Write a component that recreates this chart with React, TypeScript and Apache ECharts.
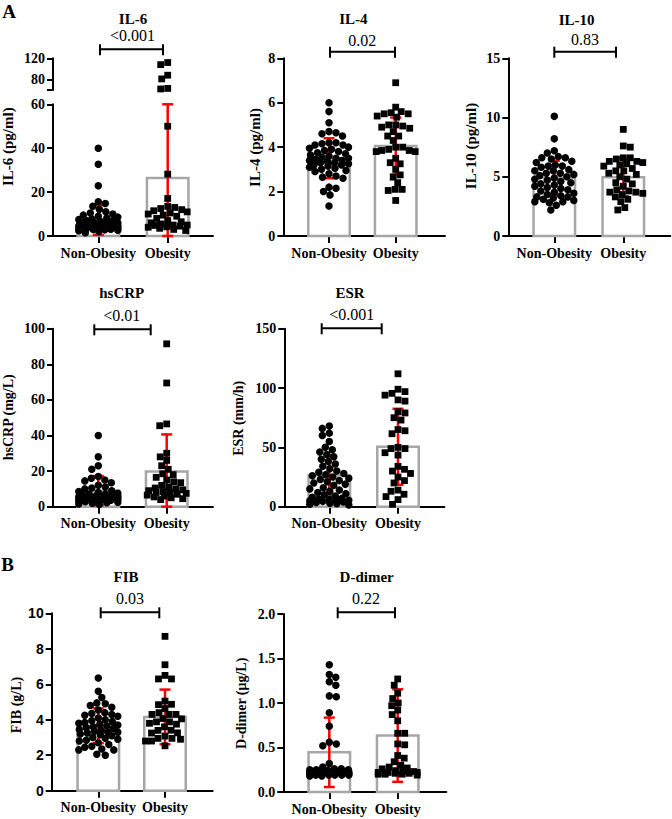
import React, { useEffect, useRef } from "react";
import * as echarts from "echarts";

// ---------------- data ----------------
const CATEGORIES = ["Non-Obesity", "Obesity"];
const TITLES = ["IL-6", "IL-4", "IL-10", "hsCRP", "ESR", "FIB", "D-dimer"];
const P_VALUES = ["<0.001", "0.02", "0.83", "<0.01", "<0.001", "0.03", "0.22"];
const Y_NAMES = ["IL-6 (pg/ml)", "IL-4 (pg/ml)", "IL-10 (pg/ml)", "hsCRP (mg/L)", "ESR (mm/h)", "FIB (g/L)", "D-dimer (μg/L)"];
const SECTION_LABELS = ["A", "B"];

const IL6_TICKS = [0, 20, 40, 60];
const IL6_UPPER_TICKS = [60, 80, 120];
const IL6_UPPER_LABELS = [80, 120];
const IL4_TICKS = [0, 2, 4, 6, 8];
const IL10_TICKS = [0, 5, 10, 15];
const HSCRP_TICKS = [0, 20, 40, 60, 80, 100];
const ESR_TICKS = [0, 50, 100, 150];
const FIB_TICKS = [0, 2, 4, 6, 8, 10];
const DDIMER_TICKS = [0, 0.5, 1.0, 1.5, 2.0];

const IL6_MEAN = [7.3, 26.4];
const IL6_SD = [6.8, 33.6];
const IL6_NON = [40, 32.7, 22.9, 15.6, 14.8, 13.5, 12.2, 11, 10.5, 10, 9.5, 9, 8.6, 8.2, 7.8, 7.5, 7.2, 6.9, 6.6, 6.3, 6, 5.8, 5.6, 5.4, 5.2, 5, 4.9, 4.8, 4.6, 4.5, 4.4, 4.3, 4.2, 4.1, 4, 3.9, 3.8, 3.7, 3.6, 3.5, 3.4, 3.3, 3.2, 3.1, 3.0, 2.8, 2.6, 2.4, 2.0, 1.5];
const IL6_OB = [112, 108, 88, 81, 63, 62, 50, 28.2, 17.1, 13.5, 13, 12.5, 12, 11.5, 11, 10.5, 10, 9.5, 9, 8, 7, 6.5, 6, 5.5, 5, 5, 4.8, 4.5, 4.2, 4, 3.5, 3, 2.5];

const IL4_MEAN = [3.5, 4.05];
const IL4_SD = [0.9, 1.28];
const IL4_NON = [6.0, 5.6, 5.1, 4.7, 4.65, 4.6, 4.5, 4.2, 4.2, 4.15, 4.1, 4.1, 4.0, 3.95, 3.9, 3.85, 3.8, 3.75, 3.7, 3.65, 3.6, 3.55, 3.5, 3.5, 3.45, 3.4, 3.4, 3.35, 3.3, 3.3, 3.25, 3.2, 3.2, 3.15, 3.1, 3.05, 3.0, 2.95, 2.9, 2.8, 2.7, 2.65, 2.6, 2.2, 2.15, 2.0, 1.85, 1.35];
const IL4_OB = [6.9, 5.8, 5.6, 5.55, 5.5, 5.5, 5.4, 5.35, 5.0, 5.0, 4.95, 4.9, 4.85, 4.7, 4.5, 4.5, 4.3, 4.0, 4.0, 3.9, 3.85, 3.85, 3.8, 3.8, 3.5, 3.3, 3.25, 3.0, 2.75, 2.65, 2.4, 2.1, 2.1, 2.05, 1.6];

const IL10_MEAN = [4.9, 4.95];
const IL10_SD = [1.45, 1.6];
const IL10_NON = [10.1, 8.2, 7.2, 7.0, 6.7, 6.6, 6.6, 6.5, 6.3, 6.2, 6.0, 5.9, 5.9, 5.8, 5.6, 5.5, 5.5, 5.3, 5.3, 5.2, 5.1, 5.0, 4.9, 4.8, 4.7, 4.6, 4.5, 4.4, 4.3, 4.2, 4.1, 4.0, 3.9, 3.8, 3.7, 3.6, 3.5, 3.4, 3.3, 3.3, 3.2, 3.1, 3.0, 2.9, 2.9, 2.8, 2.6, 2.2];
const IL10_OB = [9.0, 7.6, 7.5, 6.6, 6.6, 6.5, 6.3, 6.3, 6.2, 6.1, 6.0, 5.9, 5.7, 5.5, 5.5, 5.3, 5.2, 5.0, 4.8, 4.5, 4.4, 4.2, 3.9, 3.8, 3.7, 3.7, 3.6, 3.5, 3.3, 3.1, 2.9, 2.4, 2.2];

const HSCRP_MEAN = [9.0, 19.8];
const HSCRP_SD = [8.2, 20.8];
const HSCRP_NON = [40, 28, 23, 21, 17, 16, 15, 14.5, 13.5, 12, 11, 10.5, 10, 9, 8.5, 8, 7.5, 7.2, 7, 6.8, 6.5, 6.3, 6.1, 6, 5.8, 5.6, 5.5, 5.3, 5.2, 5, 4.9, 4.8, 4.6, 4.5, 4.3, 4.2, 4, 3.8, 3.6, 3.4, 3.2, 3, 2.8, 2.5, 2.2, 2, 1.5, 1.2];
const HSCRP_OB = [91.5, 69.5, 46.5, 45.5, 30, 28, 26, 23, 21, 18.5, 18, 16.5, 15, 14, 13.5, 12, 11, 10.5, 10, 9.5, 9, 8.5, 8, 8, 7.5, 7, 6.5, 6, 5.5, 5, 4.5, 4];

const ESR_MEAN = [26.3, 50.5];
const ESR_SD = [17, 32];
const ESR_NON = [68, 66, 62, 60, 55, 50, 48, 46, 44, 42, 40, 38, 36, 34, 32, 30, 29, 28, 27, 26, 25, 24, 23, 22, 21, 20, 19, 18, 16, 15, 14, 13, 12, 11, 10, 9, 8, 7, 6.5, 6, 5.5, 5, 5, 4.5, 4, 3.5, 3, 2.5, 2, 1.5];
const ESR_OB = [112, 99, 97, 95.5, 94, 90, 89, 80, 79, 75, 73, 65, 64, 61.5, 50, 49, 49, 45.5, 43.5, 34, 31.5, 30, 28, 25, 22, 20, 14, 13, 10.5, 8.5, 6, 2];

const FIB_MEAN = [3.66, 4.16];
const FIB_SD = [0.98, 1.54];
const FIB_NON = [6.35, 5.6, 5.25, 4.95, 4.9, 4.8, 4.7, 4.55, 4.4, 4.35, 4.3, 4.25, 4.2, 4.1, 4.0, 3.95, 3.9, 3.85, 3.8, 3.75, 3.7, 3.65, 3.6, 3.55, 3.5, 3.45, 3.4, 3.35, 3.3, 3.3, 3.25, 3.2, 3.15, 3.1, 3.0, 2.95, 2.9, 2.85, 2.8, 2.7, 2.6, 2.5, 2.45, 2.35, 2.3, 2.3, 2.05, 2.0];
const FIB_OB = [8.7, 7.1, 6.5, 6.3, 6.3, 5.05, 4.87, 4.85, 4.63, 4.4, 4.3, 4.3, 4.3, 4.07, 4.05, 3.88, 3.88, 3.8, 3.75, 3.6, 3.41, 3.4, 3.26, 3.25, 3.08, 2.95, 2.95, 2.9, 2.8, 2.8, 2.53];

const DDIMER_MEAN = [0.446, 0.634];
const DDIMER_SD = [0.39, 0.52];
const DDIMER_NON = [1.43, 1.32, 1.29, 1.24, 1.2, 1.08, 1.07, 0.89, 0.74, 0.56, 0.54, 0.52, 0.32, 0.28, 0.26, 0.26, 0.25, 0.25, 0.25, 0.24, 0.24, 0.24, 0.23, 0.23, 0.23, 0.22, 0.22, 0.22, 0.22, 0.21, 0.21, 0.21, 0.21, 0.2, 0.2, 0.2, 0.2, 0.2, 0.2, 0.19, 0.19, 0.19, 0.19, 0.19, 0.18, 0.18];
const DDIMER_OB = [1.27, 1.2, 1.11, 1.05, 1.0, 0.97, 0.92, 0.87, 0.8, 0.66, 0.66, 0.54, 0.53, 0.41, 0.38, 0.34, 0.3, 0.28, 0.27, 0.26, 0.24, 0.23, 0.23, 0.22, 0.22, 0.22, 0.21, 0.21, 0.2, 0.2, 0.2, 0.19];

// ---------------- layout & style ----------------
const SERIF = "Liberation Serif";
const SANS = "Liberation Sans";
const RED = "#ff0000";
const BAR_GRAY = "#a6a6a6";

type Layout = { left: number; top: number; width: number; height: number; c1: number; c2: number };
const LAYOUTS: Layout[] = [
  { left: 53, top: 104.3, width: 160, height: 131.7, c1: 98.3, c2: 167.7 },
  { left: 283.3, top: 58.3, width: 161.7, height: 177.7, c1: 329, c2: 395.7 },
  { left: 508.3, top: 58.3, width: 162, height: 177.7, c1: 554.3, c2: 623.3 },
  { left: 53, top: 328.7, width: 160, height: 178, c1: 98.3, c2: 166.7 },
  { left: 284.3, top: 328.7, width: 160, height: 178, c1: 329.3, c2: 398 },
  { left: 51.7, top: 613.3, width: 161, height: 177.4, c1: 98.3, c2: 165 },
  { left: 283.3, top: 614, width: 163, height: 178, c1: 329.3, c2: 397.7 },
];
const IL6_UPPER_LAYOUT = { top: 58.3, height: 31.7 };

const TITLE_POS = [[133, 18.5], [353.3, 18.5], [576.7, 20], [121.7, 292.7], [350, 293], [126, 577], [366.7, 577]];
const P_POS = [[132.5, 35], [362.3, 40], [585, 39], [121.7, 315], [351.7, 314], [130, 598], [366, 598]];
const BRACKETS = [[100, 163, 49.3], [330, 395, 51.7], [554.3, 616, 51.7], [94.3, 150.7, 329.3], [321.7, 381.7, 328.3], [100.7, 159.3, 612.3], [337.7, 395, 612.3]];
const NAME_POS = [[8, 146.7], [255, 147.5], [471, 146], [8.5, 417.3], [238.3, 418.3], [16.7, 705], [241.7, 703.3]];
const SECTION_POS = [[9, 11], [7.5, 564]];

const GROUPS = [
  [IL6_NON, IL6_OB], [IL4_NON, IL4_OB], [IL10_NON, IL10_OB], [HSCRP_NON, HSCRP_OB],
  [ESR_NON, ESR_OB], [FIB_NON, FIB_OB], [DDIMER_NON, DDIMER_OB],
];
const MEANS = [IL6_MEAN, IL4_MEAN, IL10_MEAN, HSCRP_MEAN, ESR_MEAN, FIB_MEAN, DDIMER_MEAN];
const SDS = [IL6_SD, IL4_SD, IL10_SD, HSCRP_SD, ESR_SD, FIB_SD, DDIMER_SD];
const TICKS = [IL6_TICKS, IL4_TICKS, IL10_TICKS, HSCRP_TICKS, ESR_TICKS, FIB_TICKS, DDIMER_TICKS];

// simple beeswarm: horizontal pixel offsets so that points do not pile up
function swarm(values: number[], pxPerY: number, minDist: number, maxHalf: number): number[] {
  const n = values.length;
  const order = values.map((_, i) => i).sort((a, b) => values[b] - values[a]);
  const xs = new Array(n).fill(0);
  const placed: { x: number; y: number }[] = [];
  const cands: number[] = [0];
  for (let k = 0.5; k <= maxHalf + 1e-9; k += 0.5) cands.push(k, -k);
  order.forEach((idx, j) => {
    const y = values[idx] * pxPerY;
    let best = 0;
    let bestScore = Infinity;
    for (const c0 of cands) {
      const c = j % 2 ? -c0 : c0;
      let ov = 0;
      for (const p of placed) {
        const dx = p.x - c;
        const dy = p.y - y;
        const d = Math.sqrt(dx * dx + dy * dy);
        if (d < minDist) ov += minDist - d;
      }
      if (ov === 0) {
        best = c;
        bestScore = 0;
        break;
      }
      if (ov < bestScore - 1e-9) {
        bestScore = ov;
        best = c;
      }
    }
    xs[idx] = best;
    placed.push({ x: best, y });
  });
  return xs;
}

const axisLineStyle = { color: "#000", width: 2 };

function makeYAxis(gridIndex: number, ticks: number[], labels: number[], font: string, decimals: number) {
  return {
    type: "value",
    gridIndex,
    min: ticks[0],
    max: ticks[ticks.length - 1],
    axisLine: { show: true, onZero: false, lineStyle: axisLineStyle },
    axisTick: { show: true, customValues: ticks, length: 6, lineStyle: axisLineStyle },
    axisLabel: {
      show: true,
      customValues: labels,
      formatter: (v: number) => v.toFixed(decimals),
      margin: 8,
      color: "#000",
      fontFamily: font,
      fontWeight: "bold",
      fontSize: 14,
    },
    splitLine: { show: false },
  };
}

function makeXAxis(gridIndex: number, min: number, max: number, show: boolean) {
  return {
    type: "value",
    gridIndex,
    min,
    max,
    show,
    axisLine: { show: true, onZero: false, lineStyle: axisLineStyle },
    axisTick: { show: true, customValues: [1, 2], length: 7, lineStyle: axisLineStyle },
    axisLabel: {
      show: true,
      customValues: [1, 2],
      formatter: (v: number) => CATEGORIES[Math.round(v) - 1],
      margin: 10,
      color: "#000",
      fontFamily: SERIF,
      fontWeight: "bold",
      fontSize: 14,
    },
    splitLine: { show: false },
  };
}

function buildOption() {
  const grids: any[] = [];
  const xAxes: any[] = [];
  const yAxes: any[] = [];
  const series: any[] = [];
  const graphics: any[] = [];

  const barHalf = 20.75;
  const capHalf = 5.5;

  LAYOUTS.forEach((L, p) => {
    const s = L.c2 - L.c1;
    const xMin = 1 - (L.c1 - L.left) / s;
    const xMax = xMin + L.width / s;
    const ticks = TICKS[p];
    const yMin = ticks[0];
    const yMax = ticks[ticks.length - 1];
    const g = grids.length;
    grids.push({ left: L.left, top: L.top, width: L.width, height: L.height, containLabel: false, outerBoundsMode: "none" });
    xAxes.push(makeXAxis(g, xMin, xMax, true));
    const decimals = p === 6 ? 1 : 0;
    yAxes.push(makeYAxis(g, ticks, ticks, p === 5 ? SANS : SERIF, decimals));

    let gUp = -1;
    if (p === 0) {
      gUp = grids.length;
      grids.push({ left: L.left, top: IL6_UPPER_LAYOUT.top, width: L.width, height: IL6_UPPER_LAYOUT.height, containLabel: false, outerBoundsMode: "none" });
      xAxes.push(makeXAxis(gUp, xMin, xMax, false));
      yAxes.push(makeYAxis(gUp, IL6_UPPER_TICKS, IL6_UPPER_LABELS, SERIF, 0));
    }

    // bars (mean)
    series.push({
      type: "custom",
      xAxisIndex: g,
      yAxisIndex: g,
      z: 1,
      silent: true,
      encode: { x: 0, y: 1 },
      data: MEANS[p].map((m, i) => [i + 1, m]),
      renderItem: (_params: any, api: any) => {
        const x = api.value(0);
        const m = api.value(1);
        const p0 = api.coord([x, yMin]);
        const p1 = api.coord([x, m]);
        return {
          type: "rect",
          shape: { x: p0[0] - barHalf, y: p1[1], width: barHalf * 2, height: p0[1] - p1[1] },
          style: { fill: "#fff", stroke: BAR_GRAY, lineWidth: 2.5 },
        };
      },
    });

    // error bars (SD)
    series.push({
      type: "custom",
      xAxisIndex: g,
      yAxisIndex: g,
      z: 2,
      silent: true,
      encode: { x: 0, y: 1 },
      data: MEANS[p].map((m, i) => [i + 1, m, SDS[p][i]]),
      renderItem: (_params: any, api: any) => {
        const x = api.value(0);
        const m = api.value(1);
        const sd = api.value(2);
        const lo = Math.max(yMin, m - sd);
        const hi = Math.min(yMax, m + sd);
        const pt = api.coord([x, hi]);
        const pb = api.coord([x, lo]);
        const st = { stroke: RED, lineWidth: 2.5 };
        return {
          type: "group",
          children: [
            { type: "line", shape: { x1: pt[0], y1: pt[1], x2: pb[0], y2: pb[1] }, style: st },
            { type: "line", shape: { x1: pt[0] - capHalf, y1: pt[1], x2: pt[0] + capHalf, y2: pt[1] }, style: st },
            { type: "line", shape: { x1: pb[0] - capHalf, y1: pb[1], x2: pb[0] + capHalf, y2: pb[1] }, style: st },
          ],
        };
      },
    });

    // individual points
    GROUPS[p].forEach((vals, gi) => {
      const symbol = gi === 0 ? "circle" : "rect";
      const size = gi === 0 ? 7.5 : 6.8;
      const lowVals = vals.filter((v) => v <= yMax);
      const highVals = vals.filter((v) => v > yMax);
      const lowOff = swarm(lowVals, L.height / (yMax - yMin), 7, 19.5);
      series.push({
        type: "scatter",
        xAxisIndex: g,
        yAxisIndex: g,
        z: 3,
        silent: true,
        clip: false,
        symbol,
        symbolSize: size,
        itemStyle: { color: "#000", opacity: 1 },
        data: lowVals.map((v, i) => [gi + 1 + lowOff[i] / s, v]),
      });
      if (gUp >= 0 && highVals.length) {
        const upMin = IL6_UPPER_TICKS[0];
        const upMax = IL6_UPPER_TICKS[IL6_UPPER_TICKS.length - 1];
        const hiOff = swarm(highVals, IL6_UPPER_LAYOUT.height / (upMax - upMin), 7, 19.5);
        series.push({
          type: "scatter",
          xAxisIndex: gUp,
          yAxisIndex: gUp,
          z: 3,
          silent: true,
          clip: false,
          symbol,
          symbolSize: size,
          itemStyle: { color: "#000", opacity: 1 },
          data: highVals.map((v, i) => [gi + 1 + hiOff[i] / s, v]),
        });
      }
    });

    // titles, p-values, brackets, axis names
    graphics.push({
      type: "text",
      x: TITLE_POS[p][0],
      y: TITLE_POS[p][1],
      style: { text: TITLES[p], fontFamily: SERIF, fontWeight: "bold", fontSize: 15, fill: "#000", align: "center", verticalAlign: "middle" },
    });
    graphics.push({
      type: "text",
      x: P_POS[p][0],
      y: P_POS[p][1],
      style: { text: P_VALUES[p], fontFamily: SERIF, fontWeight: "normal", fontSize: 16, fill: "#000", align: "center", verticalAlign: "middle" },
    });
    const [bx1, bx2, by] = BRACKETS[p];
    const bst = { stroke: "#000", lineWidth: 2 };
    graphics.push({ type: "line", shape: { x1: bx1, y1: by, x2: bx2, y2: by }, style: bst });
    graphics.push({ type: "line", shape: { x1: bx1, y1: by - 5, x2: bx1, y2: by + 6 }, style: bst });
    graphics.push({ type: "line", shape: { x1: bx2, y1: by - 5, x2: bx2, y2: by + 6 }, style: bst });
    graphics.push({
      type: "text",
      x: NAME_POS[p][0],
      y: NAME_POS[p][1],
      rotation: Math.PI / 2,
      style: { text: Y_NAMES[p], fontFamily: SERIF, fontWeight: "bold", fontSize: p < 3 ? 15 : 14, fill: "#000", align: "center", verticalAlign: "middle" },
    });
  });

  SECTION_LABELS.forEach((t, i) => {
    graphics.push({
      type: "text",
      x: SECTION_POS[i][0],
      y: SECTION_POS[i][1],
      style: { text: t, fontFamily: SERIF, fontWeight: "bold", fontSize: 19, fill: "#000", align: "center", verticalAlign: "middle" },
    });
  });

  return {
    animation: false,
    backgroundColor: "#fff",
    textStyle: { fontFamily: SERIF },
    grid: grids,
    xAxis: xAxes,
    yAxis: yAxes,
    series,
    graphic: graphics,
  };
}

export default function App() {
  const ref = useRef<HTMLDivElement>(null);
  useEffect(() => {
    document.body.style.margin = "0";
    const chart = echarts.init(ref.current!, null, { renderer: "svg" });
    chart.setOption(buildOption() as any);
    return () => chart.dispose();
  }, []);
  return <div ref={ref} style={{ width: 672, height: 819 }} />;
}
